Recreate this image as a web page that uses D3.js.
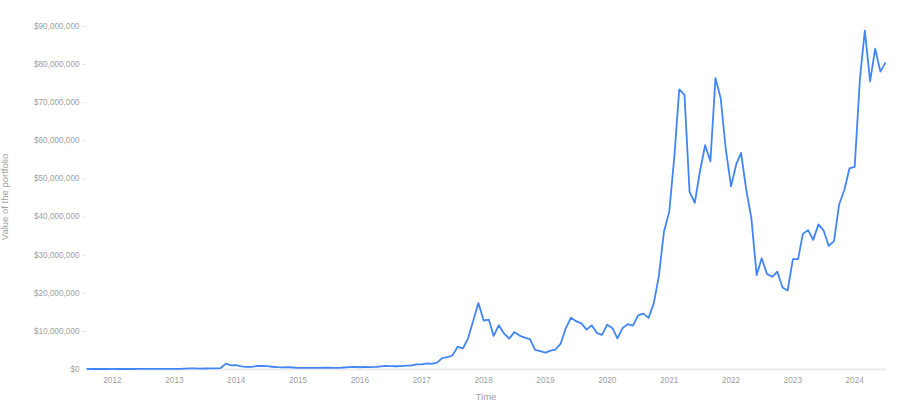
<!DOCTYPE html>
<html>
<head>
<meta charset="utf-8">
<script src="https://cdn.jsdelivr.net/npm/d3@7"></script>
<style>
  html, body { margin: 0; padding: 0; background: #fff; }
  svg { display: block; font-family: "Liberation Sans", Arial, sans-serif; }
  .tick-label { fill: #a0a0a0; font-size: 8.2px; }
  .axis-title { fill: #a0a0a0; font-size: 9.5px; }
</style>
</head>
<body>
<svg id="chart" width="900" height="412"></svg>
<script>
// Monthly portfolio value, Aug 2011 .. Jul 2024 (one value per month, in USD)
const startMonth = new Date(2011, 7, 1);

const values2011 = [10200, 6350, 3980, 3740, 5850];
const values2012 = [6850, 6100, 6100, 6230, 6350, 8340, 11700, 12700, 15440, 13940, 15690, 16810];
const values2013 = [25400, 41580, 115800, 173100, 160600, 120800, 132000, 168100, 165600, 254000, 1405600, 942500];
const values2014 = [1033000, 684800, 569000, 557800, 781900, 796800, 729600, 595100, 481800, 420800, 470600, 398400];
const values2015 = [270200, 316200, 303800, 293800, 286400, 327400, 353600, 286400, 293800, 390900, 469400, 535400];
const values2016 = [458200, 544100, 517900, 557800, 661100, 837900, 778100, 715900, 758200, 872700, 923800, 1199000];
const values2017 = [1207700, 1481600, 1344600, 1678300, 2846100, 3087600, 3579400, 5855200, 5400800, 8052700, 12740100, 17300000];
const values2018 = [12725000, 12944000, 8681000, 11504000, 9330000, 7973000, 9686000, 8761000, 8248000, 7865000, 5001000, 4659000];
const values2019 = [4304000, 4798000, 5111000, 6661000, 10675000, 13467000, 12556000, 11989000, 10325000, 11453000, 9423000, 8955000];
const values2020 = [11641000, 10706000, 8015000, 10779000, 11779000, 11376000, 14097000, 14542000, 13426000, 17157000, 24433000, 36106000];
const values2021 = [41227000, 56196000, 73353000, 71899000, 46478000, 43626000, 51824000, 58722000, 54520000, 76341000, 70971000, 57651000];
const values2022 = [47911000, 53777000, 56695000, 46954000, 39581000, 24632000, 29055000, 24962000, 24193000, 25518000, 21374000, 20602000];
const values2023 = [28808000, 28818000, 35455000, 36439000, 33888000, 37944000, 36391000, 32285000, 33575000, 43162000, 46953000, 52620000];
const values2024 = [53015000, 76192000, 88811000, 75493000, 84026000, 78034000, 80452000];

const yTicks = [0, 10e6, 20e6, 30e6, 40e6, 50e6, 60e6, 70e6, 80e6, 90e6];
const xTickYears = [2012, 2013, 2014, 2015, 2016, 2017, 2018, 2019, 2020, 2021, 2022, 2023, 2024];

const allValues = [].concat(values2011, values2012, values2013, values2014, values2015, values2016,
  values2017, values2018, values2019, values2020, values2021, values2022, values2023, values2024);
const data = allValues.map((v, i) => ({ date: d3.timeMonth.offset(startMonth, i), value: v }));

// ─── Scales ──────────────────────────────────────────────────────────────
const x = d3.scaleTime()
  .domain([data[0].date, data[data.length - 1].date])
  .range([86.5, 885.5]);

const y = d3.scaleLinear()
  .domain([0, 90e6])
  .range([369, 26]);

const svg = d3.select('#chart');
const fmt = d3.format('$,.0f');

// ─── Y axis (labels + small dash marks) ──────────────────────────────────
const yAxis = svg.append('g').attr('class', 'y-axis');
yAxis.selectAll('text')
  .data(yTicks)
  .join('text')
    .attr('class', 'tick-label')
    .attr('x', 79.5)
    .attr('y', d => y(d))
    .attr('dy', '0.35em')
    .attr('text-anchor', 'end')
    .text(d => fmt(d));

yAxis.selectAll('line')
  .data(yTicks.filter(d => d > 0))
  .join('line')
    .attr('x1', 81.5).attr('x2', 85.5)
    .attr('y1', d => y(d) + 0.5).attr('y2', d => y(d) + 0.5)
    .attr('stroke', '#e6e6e6')
    .attr('stroke-width', 1);

// Baseline
svg.append('line')
  .attr('x1', 86.5).attr('x2', 886)
  .attr('y1', y(0) + 0.5).attr('y2', y(0) + 0.5)
  .attr('stroke', '#ececec')
  .attr('stroke-width', 2);

// ─── X axis labels ───────────────────────────────────────────────────────
svg.append('g').attr('class', 'x-axis')
  .selectAll('text')
  .data(xTickYears)
  .join('text')
    .attr('class', 'tick-label')
    .attr('x', d => x(new Date(d, 0, 1)))
    .attr('y', 380)
    .attr('dy', '0.35em')
    .attr('text-anchor', 'middle')
    .text(d => d);

// ─── Axis titles ─────────────────────────────────────────────────────────
svg.append('text')
  .attr('class', 'axis-title')
  .attr('x', 486)
  .attr('y', 397)
  .attr('dy', '0.35em')
  .attr('text-anchor', 'middle')
  .text('Time');

svg.append('text')
  .attr('class', 'axis-title')
  .attr('transform', 'translate(5,197) rotate(-90)')
  .attr('dy', '0.35em')
  .attr('text-anchor', 'middle')
  .text('Value of the portfolio');

// ─── Line ────────────────────────────────────────────────────────────────
const line = d3.line()
  .x(d => x(d.date))
  .y(d => y(d.value));

svg.append('path')
  .datum(data)
  .attr('fill', 'none')
  .attr('stroke', '#4285f4')
  .attr('stroke-width', 1.8)
  .attr('stroke-linejoin', 'round')
  .attr('d', line);
</script>
</body>
</html>
